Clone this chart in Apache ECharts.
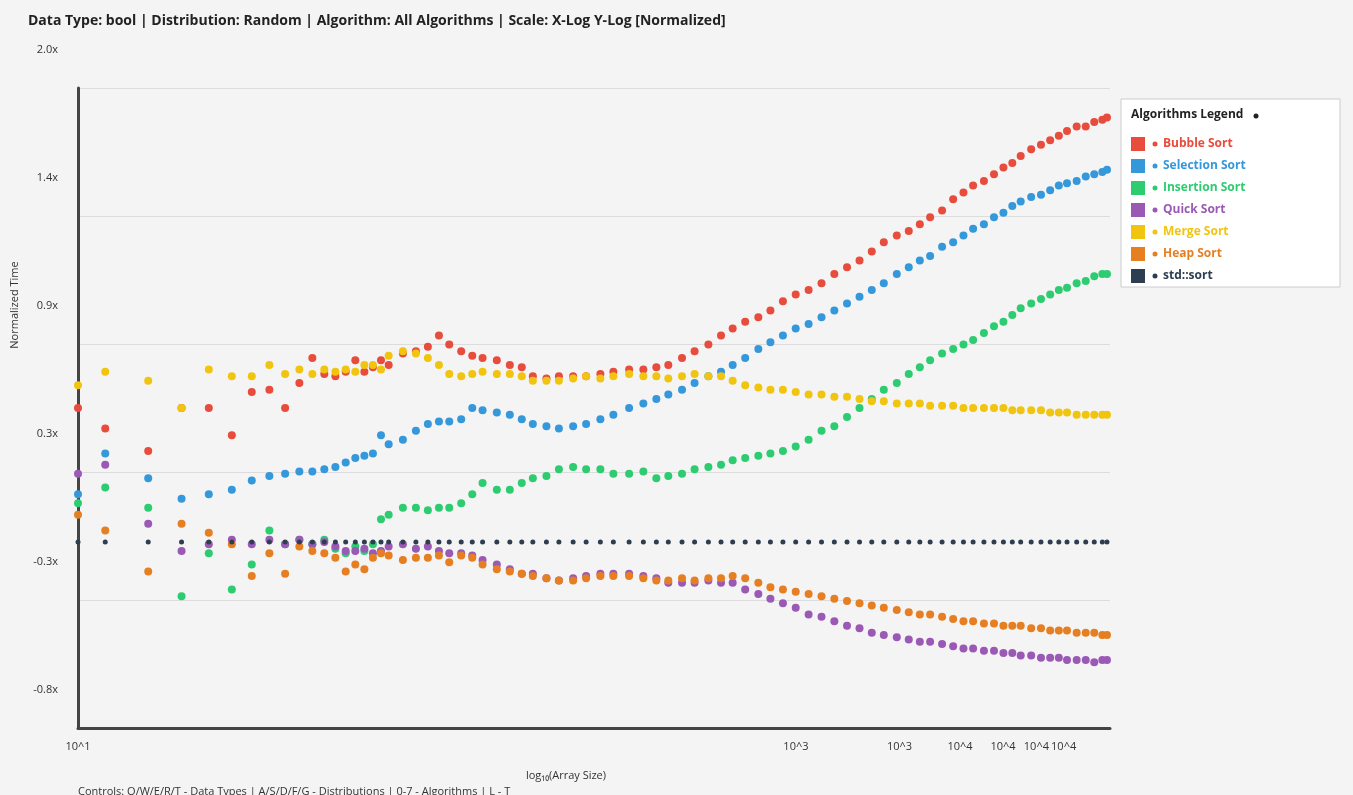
<!DOCTYPE html>
<html><head><meta charset="utf-8">
<script src="https://cdn.jsdelivr.net/npm/echarts@6/dist/echarts.min.js"></script>
<style>html,body{margin:0;padding:0;background:#f4f4f4}#c{width:1353px;height:795px}</style>
</head><body><div id="c"></div>
<script>
const sizes=[10,12,16,20,24,28,32,36,40,44,48,52,56,60,64,68,72,76,80,88,96,104,112,120,130,140,150,165,180,195,210,230,250,275,300,330,360,400,440,480,520,570,620,680,740,800,870,950,1030,1120,1220,1330,1450,1580,1720,1870,2030,2200,2400,2600,2800,3000,3250,3500,3750,4000,4300,4600,4900,5200,5500,5900,6300,6700,7100,7500,8000,8500,9000,9500,9800];
const bubble=[0.59,0.50,0.40,0.59,0.59,0.47,0.66,0.67,0.59,0.70,0.81,0.74,0.73,0.75,0.80,0.75,0.77,0.80,0.78,0.83,0.84,0.86,0.91,0.87,0.84,0.82,0.81,0.80,0.78,0.77,0.73,0.72,0.73,0.73,0.73,0.74,0.75,0.76,0.76,0.77,0.78,0.81,0.84,0.87,0.91,0.94,0.97,0.99,1.02,1.06,1.09,1.11,1.14,1.18,1.21,1.24,1.28,1.32,1.35,1.37,1.40,1.43,1.46,1.51,1.54,1.57,1.59,1.62,1.65,1.67,1.70,1.73,1.75,1.77,1.79,1.81,1.83,1.83,1.85,1.86,1.87];
const selection=[0.21,0.39,0.28,0.19,0.21,0.23,0.27,0.29,0.30,0.31,0.31,0.32,0.33,0.35,0.37,0.38,0.39,0.47,0.43,0.45,0.49,0.52,0.53,0.53,0.54,0.59,0.58,0.57,0.56,0.54,0.52,0.51,0.50,0.51,0.52,0.54,0.56,0.59,0.61,0.63,0.65,0.67,0.70,0.73,0.75,0.78,0.81,0.85,0.88,0.91,0.94,0.96,0.99,1.02,1.05,1.08,1.11,1.14,1.18,1.21,1.24,1.26,1.30,1.32,1.35,1.38,1.40,1.43,1.45,1.48,1.50,1.52,1.53,1.55,1.57,1.58,1.59,1.61,1.62,1.63,1.64];
const insertion=[0.17,0.24,0.15,-0.24,-0.05,-0.21,-0.10,0.05,-0.01,0.01,-0.01,0.01,-0.03,-0.05,-0.02,-0.04,-0.01,0.10,0.12,0.15,0.15,0.14,0.15,0.15,0.17,0.21,0.26,0.23,0.23,0.26,0.28,0.29,0.32,0.33,0.32,0.32,0.30,0.30,0.31,0.28,0.29,0.30,0.32,0.33,0.34,0.36,0.37,0.38,0.39,0.40,0.42,0.45,0.49,0.51,0.55,0.59,0.63,0.67,0.70,0.74,0.77,0.80,0.83,0.85,0.87,0.89,0.92,0.95,0.97,1.00,1.03,1.05,1.07,1.09,1.11,1.12,1.14,1.15,1.17,1.18,1.18];
const quick=[0.30,0.34,0.08,-0.04,-0.01,0.01,-0.01,0.01,-0.01,0.01,-0.01,0.00,-0.02,-0.04,-0.04,-0.03,-0.05,-0.04,-0.02,-0.01,-0.03,-0.02,-0.04,-0.05,-0.05,-0.06,-0.08,-0.10,-0.12,-0.14,-0.14,-0.16,-0.17,-0.16,-0.15,-0.14,-0.14,-0.14,-0.15,-0.16,-0.18,-0.18,-0.18,-0.17,-0.18,-0.18,-0.21,-0.23,-0.25,-0.27,-0.29,-0.32,-0.33,-0.35,-0.37,-0.38,-0.40,-0.41,-0.42,-0.43,-0.44,-0.44,-0.45,-0.46,-0.47,-0.47,-0.48,-0.48,-0.49,-0.49,-0.50,-0.50,-0.51,-0.51,-0.51,-0.52,-0.52,-0.52,-0.53,-0.52,-0.52];
const merge=[0.69,0.75,0.71,0.59,0.76,0.73,0.73,0.78,0.74,0.76,0.74,0.76,0.75,0.76,0.75,0.78,0.78,0.76,0.82,0.84,0.83,0.81,0.78,0.74,0.73,0.74,0.75,0.74,0.74,0.73,0.71,0.71,0.71,0.72,0.73,0.72,0.73,0.74,0.73,0.73,0.72,0.73,0.74,0.73,0.73,0.71,0.69,0.68,0.67,0.67,0.66,0.65,0.65,0.64,0.64,0.63,0.62,0.62,0.61,0.61,0.61,0.60,0.60,0.60,0.59,0.59,0.59,0.59,0.59,0.58,0.58,0.58,0.58,0.57,0.57,0.57,0.56,0.56,0.56,0.56,0.56];
const heap=[0.12,0.05,-0.13,0.08,0.04,-0.01,-0.15,-0.05,-0.14,-0.02,-0.04,-0.05,-0.07,-0.13,-0.10,-0.12,-0.07,-0.05,-0.06,-0.08,-0.07,-0.07,-0.06,-0.09,-0.06,-0.07,-0.10,-0.12,-0.13,-0.14,-0.15,-0.16,-0.17,-0.17,-0.16,-0.15,-0.15,-0.15,-0.16,-0.17,-0.17,-0.16,-0.17,-0.16,-0.16,-0.15,-0.16,-0.18,-0.20,-0.21,-0.22,-0.23,-0.24,-0.25,-0.26,-0.27,-0.28,-0.29,-0.30,-0.31,-0.32,-0.32,-0.33,-0.34,-0.35,-0.35,-0.36,-0.36,-0.37,-0.37,-0.37,-0.38,-0.38,-0.39,-0.39,-0.39,-0.40,-0.40,-0.40,-0.41,-0.41];
const stdsort=sizes.map(()=>0);
const names=['Bubble Sort','Selection Sort','Insertion Sort','Quick Sort','Merge Sort','Heap Sort','std::sort'];
const colors=['#e74c3c','#3498db','#2ecc71','#9b59b6','#f1c40f','#e67e22','#2c3e50'];
const xTicks=[10,1222,2444,3666,4888,6110,7332,8554];
const seriesData=[bubble,selection,insertion,quick,merge,heap,stdsort];

const chart=echarts.init(document.getElementById('c'));
const legendItems=[];
names.forEach((n,i)=>{
  const y=137+i*22;
  legendItems.push({type:'rect',shape:{x:1131,y:y,width:14,height:14},style:{fill:colors[i]}});
  legendItems.push({type:'circle',shape:{cx:1155,cy:y+7,r:2.5},style:{fill:colors[i]}});
  legendItems.push({type:'text',style:{x:1163,y:y+7,text:n,fill:colors[i],font:'bold 12px "Open Sans", sans-serif',verticalAlign:'middle'}});
});
chart.setOption({
  backgroundColor:'#f4f4f4',
  animation:false,
  grid:{left:78,right:243,top:88,bottom:67},
  xAxis:{type:'log',min:10,max:10000,logBase:10,
    axisLine:{onZero:false,lineStyle:{color:'#444',width:3}},axisTick:{show:false},splitLine:{show:false},
    axisLabel:{customValues:xTicks,hideOverlap:false,formatter:v=>'10^'+Math.round(Math.log10(v)),color:'#333',fontSize:11,margin:13,fontFamily:'Open Sans'}},
  yAxis:{type:'value',min:-0.82,max:2.0,interval:0.564,
    axisLine:{show:true,onZero:false,lineStyle:{color:'#444',width:3}},axisTick:{show:false},
    splitLine:{lineStyle:{color:'#dcdcdc'}},
    axisLabel:{formatter:v=>'{a|'+v.toFixed(1)+'x}\n{b|}',color:'#333',margin:20,
      rich:{a:{fontSize:11,fontFamily:'Open Sans',color:'#333',height:14},b:{height:76}}}},
  series:seriesData.map((d,i)=>({type:'scatter',name:names[i],data:sizes.map((s,j)=>[s,d[j]]),
    symbolSize:i===6?5:8,itemStyle:{color:colors[i],opacity:1},z:i===6?3:2})),
  graphic:[
    {type:'text',left:28,top:14,style:{text:'Data Type: bool | Distribution: Random | Algorithm: All Algorithms | Scale: X-Log Y-Log [Normalized]',font:'bold 14px "Open Sans", sans-serif',fill:'#222'}},
    {type:'text',x:15,y:305,rotation:Math.PI/2,style:{text:'Normalized Time',font:'11px "Open Sans", sans-serif',fill:'#333',align:'center',verticalAlign:'middle'}},
    {type:'text',x:566,y:776,style:{text:'log₁₀(Array Size)',font:'11px "Open Sans", sans-serif',fill:'#333',align:'center',verticalAlign:'middle'}},
    {type:'text',x:78,y:786,style:{text:'Controls: Q/W/E/R/T - Data Types | A/S/D/F/G - Distributions | 0-7 - Algorithms | L - T',font:'11px "Open Sans", sans-serif',fill:'#333'}},
    {type:'rect',shape:{x:1121,y:99,width:219,height:188},style:{fill:'#fff',stroke:'#ccc',lineWidth:1}},
    {type:'text',style:{x:1131,y:115,text:'Algorithms Legend',font:'bold 12px "Open Sans", sans-serif',fill:'#222',verticalAlign:'middle'}},
    {type:'circle',shape:{cx:1256,cy:116,r:2.5},style:{fill:'#222'}},
    ...legendItems
  ]
});
</script></body></html>
